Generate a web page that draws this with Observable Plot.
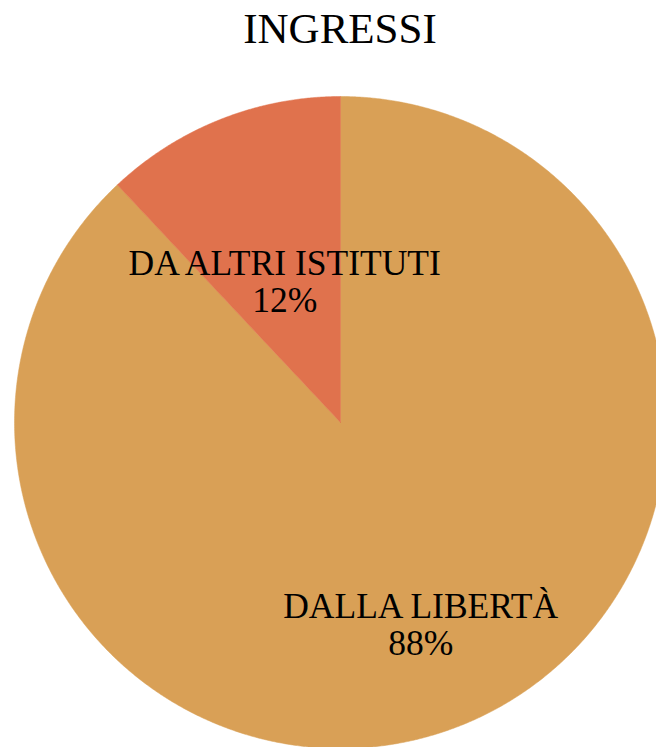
<!DOCTYPE html>
<html>
<head>
<meta charset="utf-8">
<script src="https://cdn.jsdelivr.net/npm/d3@7"></script>
<script src="https://cdn.jsdelivr.net/npm/@observablehq/plot@0.6"></script>
<style>
  html, body { margin: 0; padding: 0; background: #fff; }
  #wrap { width: 656px; height: 747px; overflow: hidden; position: relative; }
  #title {
    font-family: "Liberation Serif", "Times New Roman", serif;
    font-size: 43px; line-height: 43px; height: 60px; box-sizing: border-box;
    padding-top: 7px; text-align: center; color: #000;
    padding-left: 24px;
  }
  svg { display: block; }
</style>
</head>
<body>
<div id="wrap">
  <div id="title">INGRESSI</div>
  <div id="chart"></div>
</div>
<script>
const categories = ["DALLA LIBERTÀ", "DA ALTRI ISTITUTI"];
const values = [88, 12];
const percentLabels = ["88%", "12%"];
const colors = ["#D9A056", "#E0724D"];

const W = 656, H = 687;
const cx = 340, cy = 362, R = 326;
const labelRadius = [0.668, 0.465];

const arcs = d3.pie().sort(null).value(d => d.value)(
  categories.map((c, i) => ({ category: c, value: values[i], pct: percentLabels[i] }))
);

// polygon points for each slice (unit radius, y up), angle clockwise from 12 o'clock
const pts = [];
arcs.forEach((a, i) => {
  const n = Math.max(4, Math.ceil((a.endAngle - a.startAngle) / 0.005));
  pts.push({ cat: a.data.category, x: 0, y: 0 });
  for (let k = 0; k <= n; k++) {
    const t = a.startAngle + (a.endAngle - a.startAngle) * k / n;
    pts.push({ cat: a.data.category, x: Math.sin(t), y: Math.cos(t) });
  }
  pts.push({ cat: a.data.category, x: 0, y: 0 });
});

const labels = arcs.map((a, i) => {
  const m = (a.startAngle + a.endAngle) / 2;
  return { x: Math.sin(m) * labelRadius[i], y: Math.cos(m) * labelRadius[i],
           text: a.data.category + "\n" + a.data.pct };
});

const chart = Plot.plot({
  width: W, height: H,
  margin: 0,
  x: { domain: [-cx / R, (W - cx) / R], range: [0, W], axis: null },
  y: { domain: [-(H - cy) / R, cy / R], range: [H, 0], axis: null },
  color: { domain: categories, range: colors },
  marks: [
    Plot.line(pts, { x: "x", y: "y", z: "cat", fill: "cat", stroke: "cat", strokeWidth: 0.5, curve: "linear" }),
    Plot.text(labels, {
      x: "x", y: "y", text: "text",
      fontSize: 35.5, lineHeight: 1.03, fill: "#000",
      fontFamily: "Liberation Serif, Times New Roman, serif"
    })
  ]
});
document.getElementById("chart").appendChild(chart);
</script>
</body>
</html>
